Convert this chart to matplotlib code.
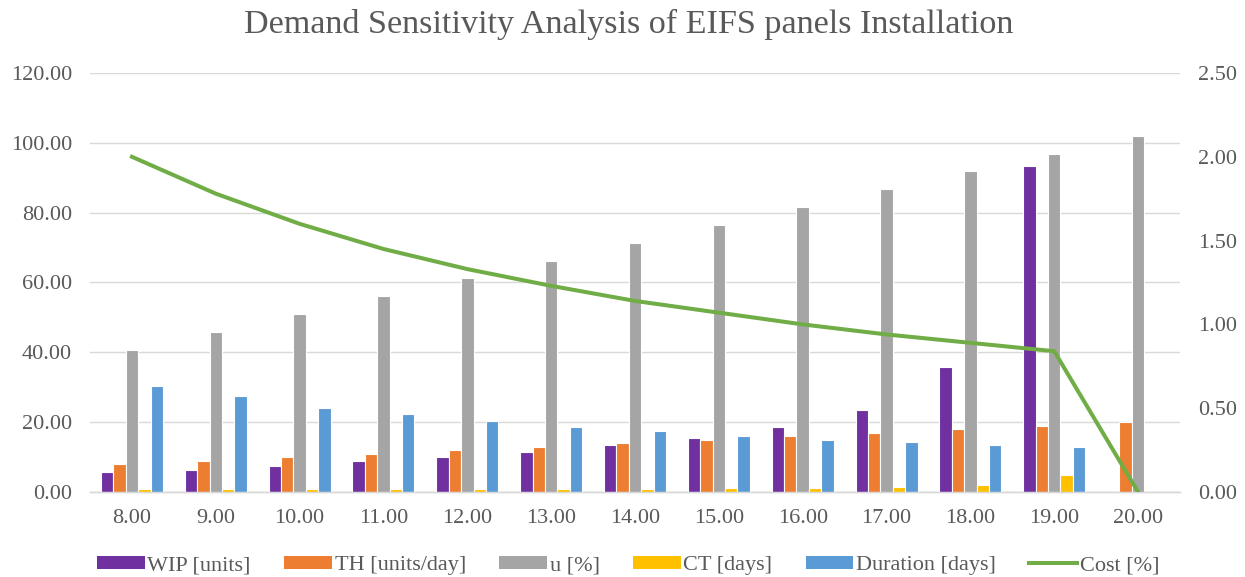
import matplotlib
matplotlib.use("Agg")
import matplotlib.pyplot as plt
from matplotlib.lines import Line2D
from matplotlib.patches import Patch
import numpy as np

# Demand levels (units/day)
demand = ["8.00", "9.00", "10.00", "11.00", "12.00", "13.00", "14.00",
          "15.00", "16.00", "17.00", "18.00", "19.00", "20.00"]

wip = [5.8, 6.4, 7.4, 8.9, 9.9, 11.4, 13.5, 15.6, 18.5, 23.6, 35.9, 93.5, 0.0]
th = [8.0, 9.0, 10.0, 11.0, 12.0, 13.0, 14.0, 15.0, 16.0, 17.0, 18.0, 19.0, 20.0]
util = [40.8, 45.9, 51.0, 56.1, 61.2, 66.3, 71.4, 76.5, 81.6, 86.7, 91.8, 96.9, 102.0]
ct = [0.75, 0.75, 0.75, 0.8, 0.8, 0.9, 0.95, 1.05, 1.15, 1.4, 2.0, 4.9, 0.0]
duration = [30.5, 27.4, 24.2, 22.3, 20.2, 18.6, 17.6, 16.0, 15.0, 14.4, 13.4, 13.0, 0.0]
cost = [2.00, 1.78, 1.60, 1.45, 1.33, 1.23, 1.14, 1.07, 1.00, 0.94, 0.89, 0.84, 0.00]

series = [
    ("WIP [units]", wip, "#7030A0"),
    ("TH [units/day]", th, "#ED7D31"),
    ("u [%]", util, "#A5A5A5"),
    ("CT [days]", ct, "#FFC000"),
    ("Duration [days]", duration, "#5B9BD5"),
]
cost_color = "#70AD47"
text_color = "#595959"
grid_color = "#D9D9D9"

plt.rcParams["font.family"] = ["Liberation Serif", "DejaVu Serif"]

fig = plt.figure(figsize=(12.45, 5.77), dpi=100)
ax = fig.add_axes([0.0723, 0.1473, 0.8755, 0.7262])
ax2 = ax.twinx()

x = np.arange(len(demand))
slot = 0.148
for i, (name, vals, col) in enumerate(series):
    ax.bar(x + (i - 2) * slot, vals, width=slot, color=col,
           edgecolor="white", linewidth=0.8, zorder=3)

ax2.plot(x, cost, color=cost_color, linewidth=2.9, zorder=4,
         solid_joinstyle="round")

ax.set_xlim(-0.5, len(demand) - 0.5)
ax.set_ylim(0, 120)
ax.set_yticks(np.arange(0, 121, 20))
ax.set_yticklabels([f"{v:.2f}" for v in np.arange(0, 121, 20)])
ax2.set_ylim(0, 2.5)
ax2.set_yticks(np.arange(0, 2.51, 0.5))
ax2.set_yticklabels([f"{v:.2f}" for v in np.arange(0, 2.51, 0.5)])

ax.set_xticks(x)
ax.set_xticklabels(demand)

ax.grid(axis="y", color=grid_color, linewidth=1.0, zorder=0)
ax.set_axisbelow(True)

for a in (ax, ax2):
    for s in ("top", "left", "right"):
        a.spines[s].set_visible(False)
    a.spines["bottom"].set_color(grid_color)
    a.spines["bottom"].set_linewidth(1.0)

ax.tick_params(axis="both", length=0, labelsize=16, labelcolor=text_color)
ax.tick_params(axis="y", pad=13)
ax.tick_params(axis="x", pad=12)
ax2.tick_params(axis="y", length=0, labelsize=16, labelcolor=text_color, pad=13)

fig.text(0.505, 0.958, "Demand Sensitivity Analysis of EIFS panels Installation",
         ha="center", va="center", fontsize=24.6, color=text_color)

handles = [Patch(facecolor=col, edgecolor="none") for _, _, col in series]
handles.append(Line2D([0], [0], color=cost_color, linewidth=2.9))
labels = [name for name, _, _ in series] + ["Cost [%]"]
fig.legend(handles, labels, loc="lower center", bbox_to_anchor=(0.5045, -0.032),
           ncol=6, frameon=False, fontsize=16, labelcolor=text_color,
           handlelength=2.15, handleheight=0.5, handletextpad=0.12,
           columnspacing=1.5)

fig.savefig("out.png", dpi=100)
